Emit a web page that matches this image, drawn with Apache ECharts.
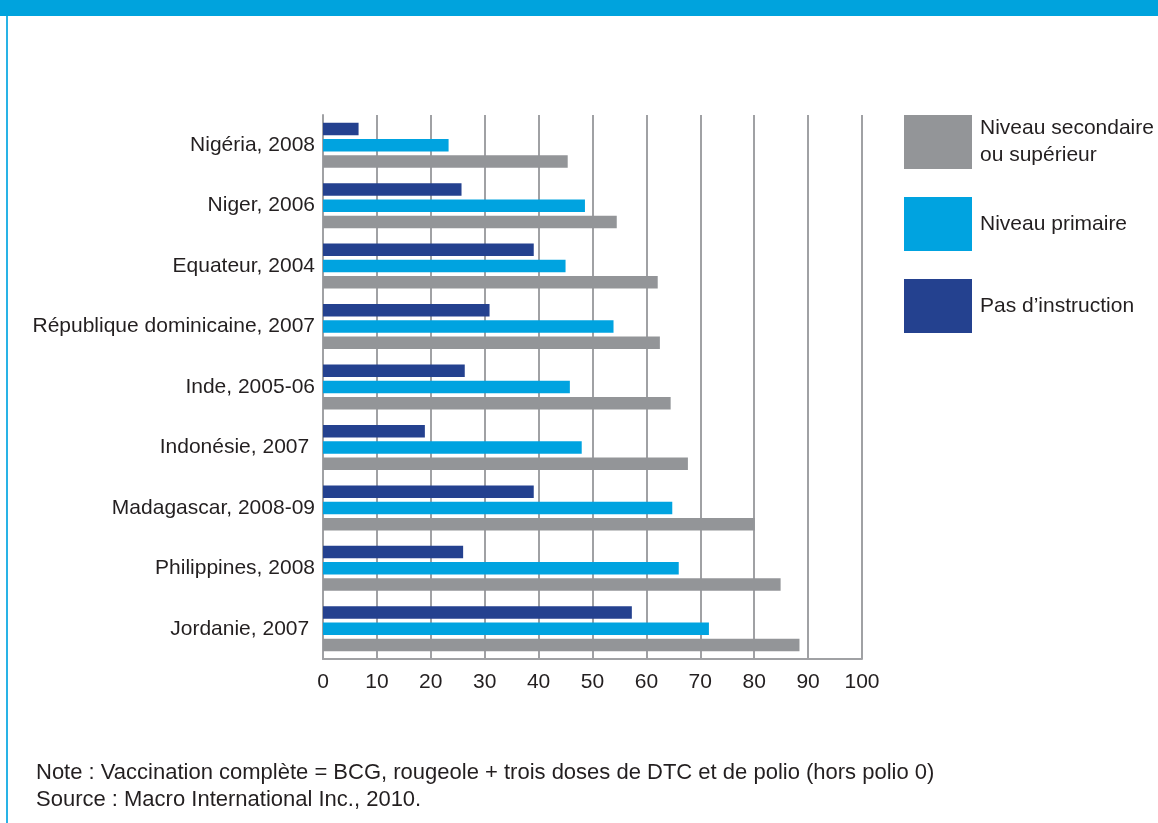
<!DOCTYPE html>
<html>
<head>
<meta charset="utf-8">
<script src="https://cdn.jsdelivr.net/npm/echarts@6/dist/echarts.min.js"></script>
<style>
  html, body { margin: 0; padding: 0; background: #fff; }
  #chart { width: 1158px; height: 823px; }
</style>
</head>
<body>
<div id="chart"></div>
<script>
// pays / enquêtes, de haut en bas
const categories = ['Nigéria, 2008', 'Niger, 2006', 'Equateur, 2004', 'République dominicaine, 2007', 'Inde, 2005-06', 'Indonésie, 2007 ', 'Madagascar, 2008-09', 'Philippines, 2008', 'Jordanie, 2007 ']
const pasInstruction = [6.6, 25.7, 39.1, 30.9, 26.3, 18.9, 39.1, 26.0, 57.3]
const niveauPrimaire = [23.3, 48.6, 45.0, 53.9, 45.8, 48.0, 64.8, 66.0, 71.6]
const niveauSecondaire = [45.4, 54.5, 62.1, 62.5, 64.5, 67.7, 80.1, 84.9, 88.4]
const xTicks = [0, 10, 20, 30, 40, 50, 60, 70, 80, 90, 100]

const noteLines = [
  'Note : Vaccination complète = BCG, rougeole + trois doses de DTC et de polio (hors polio 0)',
  'Source : Macro International Inc., 2010.'
]

const FONT = '"Liberation Sans", Arial, sans-serif'
const TEXT = '#231f20'
const GRID_GRAY = '#a0a1a4'

const myChart = echarts.init(document.getElementById('chart'))

const barStyle = {
  type: 'bar',
  barWidth: 12.5,
  barGap: '30%',
  barCategoryGap: '25%'
}

const option = {
  animation: false,
  textStyle: { fontFamily: FONT },
  graphic: [
    // bandeau bleu en haut
    { type: 'rect', left: 0, top: 0, shape: { width: 1158, height: 16 }, style: { fill: '#00a3dd' } },
    // filet bleu à gauche
    { type: 'rect', left: 6, top: 16, shape: { width: 2, height: 807 }, style: { fill: '#29b3e6' } },
    {
      type: 'text', left: 36, top: 762,
      style: { text: noteLines[0], font: '22px ' + FONT, fill: TEXT }
    },
    {
      type: 'text', left: 36, top: 789,
      style: { text: noteLines[1], font: '22px ' + FONT, fill: TEXT }
    }
  ],
  legend: {
    orient: 'vertical',
    left: 904,
    top: 115,
    padding: 0,
    itemWidth: 68,
    itemHeight: 54,
    itemGap: 28,
    icon: 'rect',
    data: ['Niveau secondaire\nou supérieur', 'Niveau primaire', 'Pas d’instruction'],
    textStyle: {
      color: TEXT,
      fontSize: 21,
      lineHeight: 27,
      fontFamily: FONT,
      padding: [0, 0, 0, 3]
    }
  },
  grid: {
    left: 323,
    right: 296,
    top: 115,
    bottom: 164,
    containLabel: false
  },
  xAxis: {
    type: 'value',
    min: 0,
    max: 100,
    interval: 10,
    axisLine: { show: true, lineStyle: { color: GRID_GRAY, width: 2 } },
    axisTick: { show: false },
    axisLabel: {
      color: TEXT,
      fontSize: 21,
      margin: 13,
      fontFamily: FONT,
      formatter: v => xTicks.includes(v) ? String(v) : ''
    },
    splitLine: { show: true, lineStyle: { color: GRID_GRAY, width: 2 } }
  },
  yAxis: {
    type: 'category',
    inverse: true,
    data: categories,
    axisLine: { show: true, lineStyle: { color: GRID_GRAY, width: 2 } },
    axisTick: { show: false },
    axisLabel: {
      color: TEXT,
      fontSize: 21,
      margin: 8,
      fontFamily: FONT
    }
  },
  series: [
    {
      ...barStyle,
      name: 'Pas d’instruction',
      itemStyle: { color: '#24418f' },
      data: pasInstruction
    },
    {
      ...barStyle,
      name: 'Niveau primaire',
      itemStyle: { color: '#00a3e0' },
      data: niveauPrimaire
    },
    {
      ...barStyle,
      name: 'Niveau secondaire\nou supérieur',
      itemStyle: { color: '#939598' },
      data: niveauSecondaire
    }
  ]
}

myChart.setOption(option)
</script>
</body>
</html>
